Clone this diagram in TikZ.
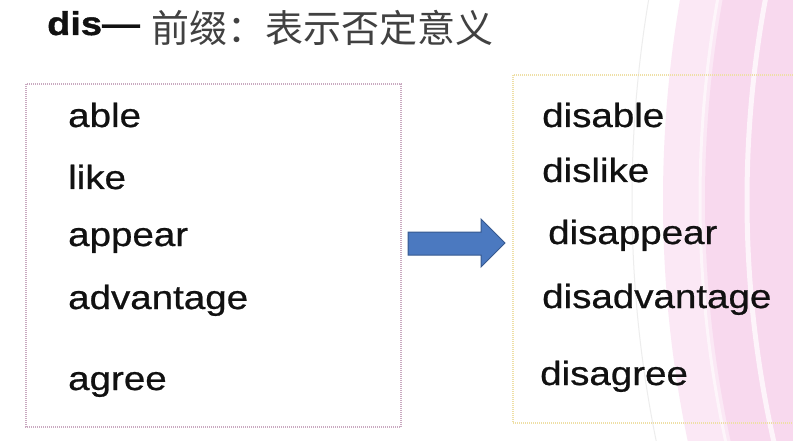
\documentclass[tikz,border=0pt]{standalone}
\usepackage{fontspec}
\setmainfont{Liberation Sans}
\newfontfamily\wordfont{Liberation Sans}[FakeStretch=1.15,FakeBold=0.7]
\newfontfamily\titlefont{Liberation Sans}[FakeStretch=1.15,FakeBold=1.2]
\newfontfamily\cjk{Noto Sans CJK SC}
\definecolor{pinkA}{HTML}{FBE8F5}
\definecolor{pinkB}{HTML}{F8D9EE}
\definecolor{boxL}{HTML}{C9A9C0}
\definecolor{boxR}{HTML}{EEDFA6}
\definecolor{arrfill}{HTML}{4B79C0}
\definecolor{arrdraw}{HTML}{36598F}
\definecolor{ink}{HTML}{111111}
\begin{document}
\begin{tikzpicture}[x=1pt,y=-1pt,
  word/.style={anchor=base west, inner sep=0pt, text=ink,
    font=\wordfont\fontsize{33.5}{33.5}\selectfont},
  dotbox/.style={line width=1.1pt, dash pattern=on 1pt off 1pt}]
\useasboundingbox (0,0) rectangle (793,441);
\clip (0,0) rectangle (793,441);
% background decoration
\fill[white] (0,0) rectangle (793,441);
\draw[black!7, line width=1pt] (1832,200) circle (1200);
\fill[pinkA] (1839,200) circle (1176);
\draw[white!55!pinkA, line width=3pt] (1839,200) circle (1139);
\fill[pinkB] (1839,200) circle (1134);
\draw[white!70!pinkB, line width=5pt] (1839,200) circle (1092);
% title
\node[anchor=base west, inner sep=0pt, text=ink,
  font=\titlefont\bfseries\fontsize{33}{33}\selectfont] (title) at (47,35) {dis—};
\node[anchor=base west, inner sep=0pt, text=ink!80,
  font=\cjk\fontsize{38}{38}\selectfont] (sub) at (151,43) {前缀：表示否定意义};
% boxes
\draw[dotbox, boxL] (26,84) rectangle (401,427);
\draw[dotbox, boxR] (513,75) rectangle (800,423);
% left words
\node[word] (w1) at (68,127) {able};
\node[word] (w2) at (68,189) {like};
\node[word] (w3) at (68,246) {appear};
\node[word] (w4) at (68,309) {advantage};
\node[word] (w5) at (68,390) {agree};
% right words
\node[word] (d1) at (542,127) {disable};
\node[word] (d2) at (542,182) {dislike};
\node[word] (d3) at (548,244) {disappear};
\node[word] (d4) at (542,308) {disadvantage};
\node[word] (d5) at (540,385) {disagree};
% block arrow
\filldraw[fill=arrfill, draw=arrdraw, line width=1pt, line join=miter]
  (408,232) -- (481,232) -- (481,219) -- (505,243) -- (481,267)
  -- (481,255) -- (408,255) -- cycle;
\end{tikzpicture}
\end{document}
